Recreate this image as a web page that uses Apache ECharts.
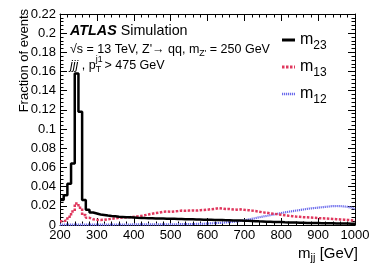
<!DOCTYPE html>
<html><head><meta charset="utf-8">
<script src="https://cdn.jsdelivr.net/npm/echarts@6/dist/echarts.min.js"></script>
<style>html,body{margin:0;padding:0;background:#fff}#c{width:374px;height:268px}</style>
</head><body><div id="c"></div>
<script>
// bin low edges (GeV), 10 GeV bins, last edge 1000
const binEdges = [200,210,220,230,240,250,260,270,280,290,300,310,320,330,340,350,360,370,380,390,
400,410,420,430,440,450,460,470,480,490,500,510,520,530,540,550,560,570,580,590,
600,610,620,630,640,650,660,670,680,690,700,710,720,730,740,750,760,770,780,790,
800,810,820,830,840,850,860,870,880,890,900,910,920,930,940,950,960,970,980,990,1000];
const m23 = [0.026,0.031,0.043,0.064,0.158,0.118,0.026,0.016,0.013,0.012,
0.011,0.0105,0.0098,0.0093,0.009,0.0086,0.0084,0.0082,0.008,0.0078,
0.0075,0.0074,0.0072,0.0071,0.007,0.0069,0.0068,0.0067,0.0066,0.0065,
0.0064,0.0063,0.0062,0.0061,0.006,0.0059,0.0058,0.0057,0.0056,0.0055,
0.0054,0.0053,0.0052,0.0051,0.005,0.0049,0.0048,0.0047,0.0046,0.0045,
0.0044,0.0042,0.004,0.0038,0.0037,0.0035,0.0034,0.0032,0.0031,0.003,
0.0028,0.0027,0.0026,0.0025,0.0024,0.0023,0.0022,0.0021,0.002,0.002,
0.0019,0.0018,0.0018,0.0017,0.0016,0.0016,0.0015,0.0015,0.0014,0.0014];
const m13 = [0.004,0.005,0.0087,0.014,0.0225,0.018,0.0105,0.0075,0.006,0.0055,
0.0052,0.0055,0.006,0.0065,0.007,0.0075,0.0078,0.008,0.0082,0.0085,
0.009,0.0095,0.0102,0.011,0.0118,0.0125,0.013,0.0138,0.014,0.0138,
0.0142,0.0145,0.015,0.0148,0.015,0.0152,0.015,0.0155,0.0156,0.016,
0.0165,0.0168,0.0176,0.0172,0.0166,0.0168,0.0162,0.016,0.0163,0.0158,
0.0155,0.015,0.0146,0.0139,0.0132,0.0128,0.0122,0.0118,0.0112,0.0106,
0.0101,0.0096,0.0092,0.0088,0.0085,0.0082,0.008,0.0077,0.0075,0.0072,
0.007,0.0068,0.0066,0.0063,0.0061,0.0058,0.0056,0.0053,0.0049,0.0043];
const m12 = [0.0003,0.0003,0.0004,0.0003,0.0004,0.0004,0.0003,0.0004,0.0004,0.0004,
0.0004,0.0004,0.0005,0.0004,0.0005,0.0005,0.0005,0.0005,0.0005,0.0006,
0.0006,0.0006,0.0006,0.0006,0.0007,0.0007,0.0007,0.0007,0.0008,0.0008,
0.0008,0.0008,0.0009,0.0009,0.0009,0.001,0.0011,0.0012,0.0013,0.0015,
0.0017,0.0019,0.0021,0.0024,0.0027,0.003,0.0034,0.0038,0.0043,0.0049,
0.0056,0.0064,0.0072,0.008,0.0088,0.0095,0.0103,0.011,0.0117,0.0125,
0.0132,0.0138,0.0144,0.015,0.0156,0.0162,0.0168,0.0173,0.0177,0.0181,
0.0185,0.0189,0.0193,0.0197,0.0198,0.0197,0.0194,0.0189,0.0181,0.0167];
const seriesNames = ['m23','m13','m12'];
const xTicks = {min:200,max:1000,step:100};
const yTicks = {min:0,max:0.22,step:0.02};

const FONT = '"Liberation Sans", Arial, Helvetica, sans-serif';
function hist(vals){
  const d = vals.map((v,i)=>[binEdges[i], v]);
  d.push([binEdges[vals.length], vals[vals.length-1]]);
  return d;
}
const chart = echarts.init(document.getElementById('c'), null, {renderer:'canvas'});
const axisCommon = {
  type:'value', splitLine:{show:false},
  axisLine:{show:true, onZero:false, lineStyle:{color:'#000', width:1}},
  axisTick:{show:true, inside:true, length:7, lineStyle:{color:'#000', width:1}},
  minorTick:{show:true, splitNumber:5, length:3.5, lineStyle:{color:'#000', width:1}},
};
const xCommon = Object.assign({}, axisCommon, {min:xTicks.min, max:xTicks.max, interval:xTicks.step});
const yCommon = Object.assign({}, axisCommon, {min:yTicks.min, max:yTicks.max, interval:yTicks.step});

const ctx = document.createElement('canvas').getContext('2d');
function tw(t, f){ ctx.font = f; return ctx.measureText(t).width; }
const SUBR = 0.7;
// fit annotation font sizes to the widths seen in the reference
const w1 = tw('ATLAS', 'italic bold 100px '+FONT) + tw(' Simulation', '100px '+FONT);
const TF1 = Math.min(15, 1.12 * 105 / w1 * 100);
const w2 = tw('\u221As = 13 TeV, Z\'\u2192 qq, m', '100px '+FONT) + tw('Z\'', (100*SUBR)+'px '+FONT) + tw(' = 250 GeV', '100px '+FONT);
const TF = Math.min(15, 200 / w2 * 100);
const supX = 70 + tw('jjj', 'italic '+TF+'px ' + FONT) + tw(' , p', TF+'px ' + FONT);

const colors = {m23:'#000000', m13:'#e0385e', m12:'#6a6aec'};
const styles = {
  m23:{width:2.5, type:'solid'},
  m13:{width:2.5, type:[2.5,1.5]},
  m12:{width:2.2, type:[1.2,0.8]}
};
// legend layout
const LEG = {left:282, top:28, itemW:13, rowH:24, gap:3};
const swatches = seriesNames.map((n,i)=>{
  const y = LEG.top + i*(LEG.rowH+LEG.gap) + LEG.rowH/2;
  return {type:'line', silent:true, z:100,
    shape:{x1:LEG.left, y1:y, x2:LEG.left+LEG.itemW, y2:y},
    style:{stroke:colors[n], lineWidth:styles[n].width+0.5, lineDash:styles[n].type==='solid'?null:styles[n].type}};
});
const subStyle = {fontSize:TF*SUBR, lineHeight:TF*SUBR, padding:[8,0,0,0], fontFamily:FONT};

chart.setOption({
  animation:false,
  backgroundColor:'#fff',
  textStyle:{fontFamily:FONT},
  grid:{left:60, right:19, top:14, bottom:43, containLabel:false},
  xAxis:[
    Object.assign({}, xCommon, {position:'bottom',
      axisLabel:{show:true, fontSize:13, color:'#000', margin:4, fontFamily:FONT, showMinLabel:true, showMaxLabel:true,
        formatter:v=>String(v)}}),
    Object.assign({}, xCommon, {position:'top', axisLabel:{show:false}})
  ],
  yAxis:[
    Object.assign({}, yCommon, {position:'left',
      axisLabel:{show:true, fontSize:13, color:'#000', margin:4, fontFamily:FONT, showMinLabel:true, showMaxLabel:true,
        formatter:v=>String(+v.toFixed(2))}}),
    Object.assign({}, yCommon, {position:'right', axisLabel:{show:false}})
  ],
  legend:{
    show:true, orient:'vertical', left:LEG.left, top:LEG.top, padding:0, itemGap:LEG.gap, itemWidth:LEG.itemW, itemHeight:14,
    icon:'rect',
    data:seriesNames.map(n=>({name:n, itemStyle:{color:'rgba(0,0,0,0)', borderWidth:0}})),
    formatter:n=>'{m|m}{s|'+n.slice(1)+'}',
    textStyle:{color:'#000', fontFamily:FONT, rich:{
      m:{fontSize:16, lineHeight:16, fontFamily:FONT, color:'#000'},
      s:{fontSize:12, lineHeight:12, padding:[12,0,0,0], fontFamily:FONT, color:'#000'}
    }}
  },
  series:[
    {name:'m12', type:'line', step:'end', symbol:'none', showSymbol:false, data:hist(m12), z:2,
      lineStyle:{color:colors.m12, width:styles.m12.width, type:styles.m12.type}, itemStyle:{color:colors.m12}},
    {name:'m13', type:'line', step:'end', symbol:'none', showSymbol:false, data:hist(m13), z:3,
      lineStyle:{color:colors.m13, width:styles.m13.width, type:styles.m13.type}, itemStyle:{color:colors.m13}},
    {name:'m23', type:'line', step:'end', symbol:'none', showSymbol:false, data:hist(m23), z:4,
      lineStyle:{color:colors.m23, width:styles.m23.width, type:'solid'}, itemStyle:{color:colors.m23}}
  ],
  graphic:[
    {type:'text', x:24, y:9, rotation:Math.PI/2,
      style:{text:'Fraction of events', font:'13px '+FONT, fill:'#000', align:'right', verticalAlign:'middle'}},
    {type:'text', x:358, y:254,
      style:{text:'m{s|jj} [GeV]', font:'15px '+FONT, fill:'#000', align:'right', verticalAlign:'middle',
        rich:{s:{fontSize:11, lineHeight:11, padding:[8,0,0,0], fontFamily:FONT}}}},
    {type:'text', x:70, y:31.5,
      style:{text:'{b|ATLAS} Simulation', font:TF1+'px '+FONT, fill:'#000', align:'left', verticalAlign:'middle',
        rich:{b:{fontSize:TF1, fontWeight:'bold', fontStyle:'italic', fontFamily:FONT}}}},
    {type:'text', x:70, y:49.5,
      style:{text:'\u221As = 13 TeV, Z\'\u2192 qq, m{s|Z\'} = 250 GeV', font:TF+'px '+FONT, fill:'#000', align:'left', verticalAlign:'middle',
        rich:{s:subStyle}}},
    {type:'text', x:70, y:65.5,
      style:{text:'{i|jjj} , p{s|T} > 475 GeV', font:TF+'px '+FONT, fill:'#000', align:'left', verticalAlign:'middle',
        rich:{i:{fontStyle:'italic', fontSize:TF, fontFamily:FONT}, s:subStyle}}},
    {type:'text', x:supX, y:60,
      style:{text:'j1', font:(TF*SUBR)+'px '+FONT, fill:'#000', align:'left', verticalAlign:'middle'}}
  ].concat(swatches)
});
</script></body></html>
